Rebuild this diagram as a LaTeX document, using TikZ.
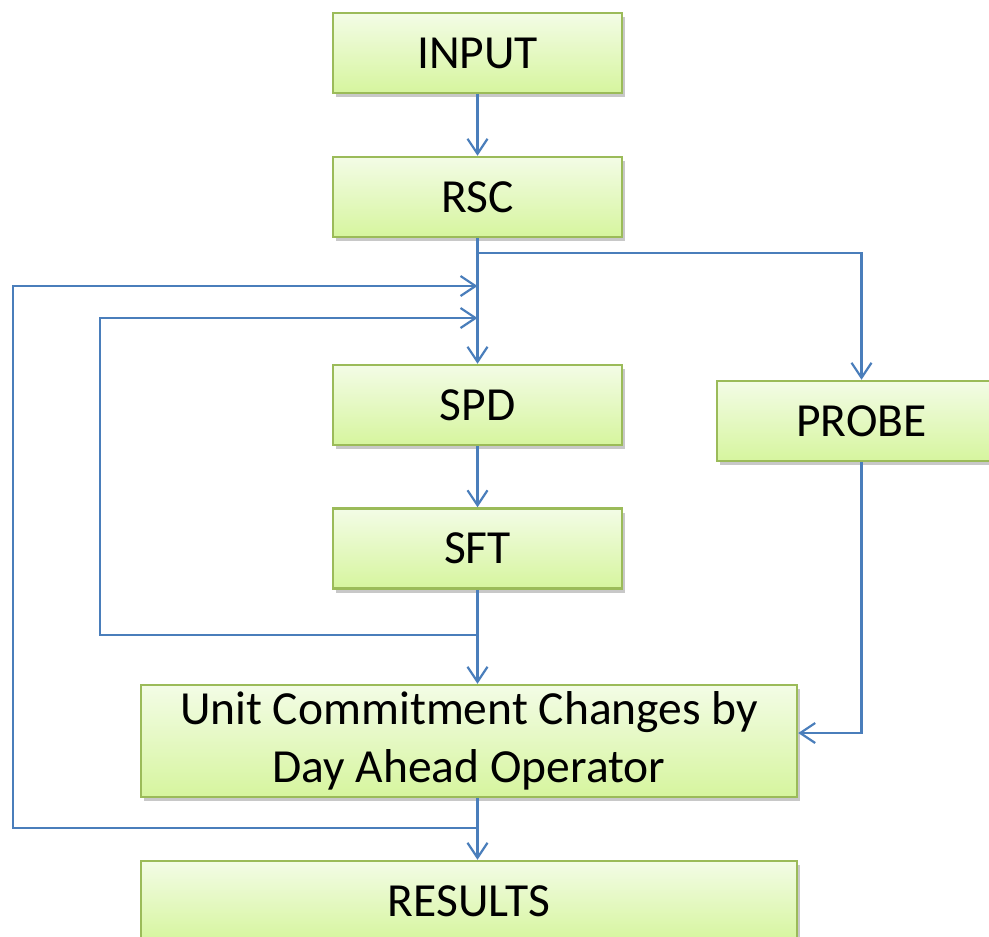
\documentclass[tikz,border=0pt]{standalone}
\usepackage{fontspec}
\setmainfont{Carlito}
\usetikzlibrary{arrows.meta,shadows,calc}
\definecolor{boxtop}{RGB}{243,252,230}
\definecolor{boxbot}{RGB}{214,245,158}
\definecolor{boxline}{RGB}{155,187,89}
\definecolor{lineblue}{RGB}{74,126,187}
\tikzset{
  flowbox/.style={rectangle, draw=boxline, line width=2.5pt, top color=boxtop, bottom color=boxbot,
    minimum width=289pt, minimum height=80pt, inner sep=0pt, align=center,
    font=\fontsize{47.5}{58}\selectfont,
    drop shadow={shadow xshift=3pt, shadow yshift=-4pt, opacity=0.3, fill=black!70}},
  conn/.style={draw=lineblue, line width=2.2pt, -{Straight Barb[length=15pt,width=20pt,line width=2.2pt]}}
}
\begin{document}
\begin{tikzpicture}[x=1pt,y=-1pt]
\path[use as bounding box, clip] (0,0) rectangle (989,937);
\fill[white] (0,0) rectangle (989,937);
\node[flowbox] (input) at (477.5,53) {INPUT};
\node[flowbox] (rsc) at (477.5,197) {RSC};
\node[flowbox] (spd) at (477.5,405) {SPD};
\node[flowbox] (sft) at (477.5,548.5) {SFT};
\node[flowbox] (probe) at (861.5,421) {PROBE};
\node[flowbox, minimum width=656pt, minimum height=112pt] (uc) at (469,741) {Unit Commitment Changes by\\Day Ahead Operator};
\node[flowbox, minimum width=656pt, minimum height=80pt] (results) at (469,901) {RESULTS};
\coordinate (br) at (477.5,253);
\coordinate (j1) at (477.5,286);
\coordinate (j2) at (477.5,318);
\coordinate (l1) at (13,828);
\coordinate (l2) at (100,635);
\draw[conn] (input) -- (rsc);
\draw[conn] (rsc) -- (spd);
\draw[conn] (br) -| (probe);
\draw[conn] (spd) -- (sft);
\draw[conn] (sft.south) -- (sft.south |- uc.north);
\draw[conn] (sft.south |- l2) -- (l2) |- (j2);
\draw[conn] (sft.south |- uc.south) -- (sft.south |- results.north);
\draw[conn] (sft.south |- l1) -- (l1) |- (j1);
\draw[conn] (probe.south) |- ([yshift=8pt]uc.east);
\end{tikzpicture}
\end{document}
